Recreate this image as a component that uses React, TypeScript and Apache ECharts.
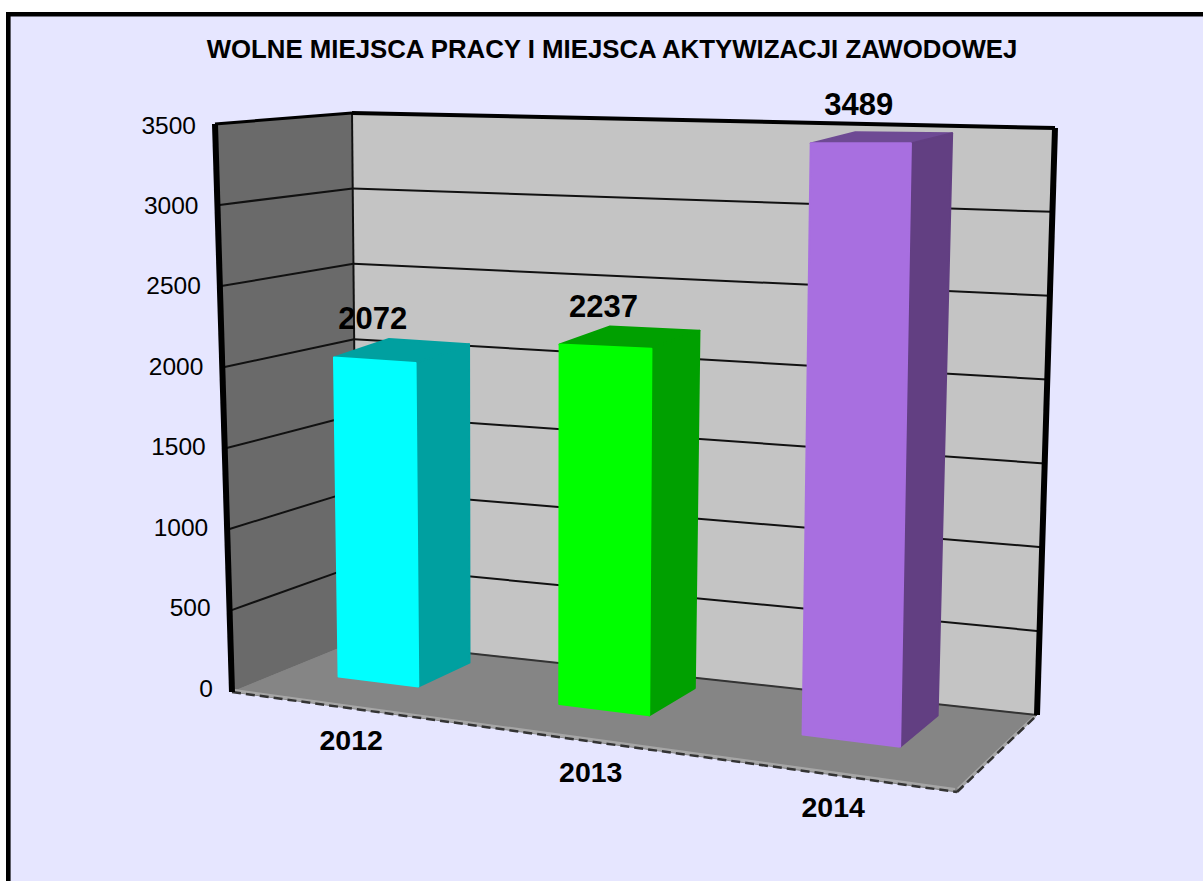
import React, { useEffect, useRef } from "react";
import * as echarts from "echarts";

const titleText = "WOLNE MIEJSCA PRACY I MIEJSCA AKTYWIZACJI ZAWODOWEJ";
const categories = ["2012", "2013", "2014"];
const values = [2072, 2237, 3489];
const yTicks = [0, 500, 1000, 1500, 2000, 2500, 3000, 3500];

const frontColors = ["#00ffff", "#00ff00", "#a86fe0"];
const sideColors = ["#00a0a0", "#00a000", "#623f82"];
const topColors = ["#00a0a0", "#00a000", "#6e4a94"];

const FONT = '"Liberation Sans", Arial, sans-serif';
const GRID = { left: 232, top: 124, width: 725, height: 568 };

// floor quad corners and the perspective derived from them
const A = [232, 692], D = [957, 792], C = [1037, 715], B = [357, 641];
const homography = () => {
  const dx1 = D[0] - C[0], dx2 = B[0] - C[0], sx = A[0] - D[0] + C[0] - B[0];
  const dy1 = D[1] - C[1], dy2 = B[1] - C[1], sy = A[1] - D[1] + C[1] - B[1];
  const den = dx1 * dy2 - dx2 * dy1;
  const g = (sx * dy2 - dx2 * sy) / den;
  const h = (dx1 * sy - sx * dy1) / den;
  return {
    a: D[0] - A[0] + g * D[0], b: B[0] - A[0] + h * B[0], c: A[0],
    d: D[1] - A[1] + g * D[1], e: B[1] - A[1] + h * B[1], f: A[1], g, h,
  };
};
const H = homography();
const lerp = (p: number, q: number, t: number) => p + (q - p) * t;

// u: across, v: 0..1 up the value axis, d: depth 0 (front) .. 1 (back)
const project = (u: number, v: number, d: number): number[] => {
  const w = H.g * u + H.h * d + 1;
  const x = (H.a * u + H.b * d + H.c) / w;
  const y = (H.d * u + H.e * d + H.f) / w;
  const dd = Math.max(d, 0);
  const uh = Math.pow(Math.max(u, 0), 1.4);
  const height = lerp(lerp(568, 735, uh), lerp(528, 587, uh), Math.pow(dd, 0.25));
  const shift = lerp(lerp(-17, 6.5, u), lerp(-5, 18, u), Math.pow(dd, 0.6));
  return [x + shift * v, y - height * v];
};

const BAR_WIDTH_OF_BAND = 0.41;
const BAR_FRONT = 0.41;
const BAR_BACK = 0.85;
const BAR_NUDGE = [-0.003, 0.017, 0.006];
const BAR_WIDTH_SCALE = [1, 0.94, 0.85];
const CATEGORY_LABEL_DX = [26, 35, 23];

const poly = (points: number[][], fill: string, stroke?: string, lineWidth = 1) => ({
  type: "polygon",
  shape: { points },
  style: { fill, stroke: stroke || fill, lineWidth, lineJoin: "round" },
  silent: true,
});
const line = (p: number[], q: number[], stroke: string, lineWidth: number, lineDash?: number[]) => ({
  type: "polyline",
  shape: { points: [p, q] },
  style: { fill: "none", stroke, lineWidth, lineDash },
  silent: true,
});
const label = (text: string, p: number[], font: string, align = "center") => ({
  type: "text",
  style: { text, x: p[0], y: p[1], font, fill: "#000", align, verticalAlign: "middle" },
  silent: true,
});

const renderBox = (params: any, api: any) => {
  const toV = (tick: number) => 1 - (api.coord([0, tick])[1] - GRID.top) / GRID.height;
  const children: any[] = [];
  const p = project;
  children.push(poly([p(0, 0, 0), p(0, 1, 0), p(0, 1, 1), p(0, 0, 1)], "#6a6a6a"));
  children.push(poly([p(0, 0, 1), p(0, 1, 1), p(1, 1, 1), p(1, 0, 1)], "#c4c4c4"));
  yTicks.slice(1, -1).forEach((t) => {
    const v = toV(t);
    children.push(line(p(0, v, 0), p(0, v, 1), "#111", 2));
    children.push(line(p(0, v, 1), p(1, v, 1), "#111", 2));
  });
  children.push(poly([p(0, 0, 0), p(1, 0, 0), p(1, 0, 1), p(0, 0, 1)], "#858585"));
  // lighter floor rim and its broken dark outline
  children.push(line([A[0] + 2, A[1] - 1.5], [D[0] - 2, D[1] - 2.5], "#a6a6a6", 3));
  children.push(line([D[0] + 1, D[1] - 3], [C[0] - 2, C[1] + 1], "#a6a6a6", 3));
  children.push(line(A, D, "#333", 2.5, [9, 5]));
  children.push(line(D, C, "#333", 2.5, [9, 5]));
  children.push(line(p(0, 0, 1), p(1, 0, 1), "#333", 2));
  // box edges
  children.push(line(p(0, 0, 1), p(0, 1, 1), "#111", 2));
  children.push(line(p(0, 0, 0), p(0, 1, 0), "#000", 6));
  children.push(line(p(1, 0, 1), p(1, 1, 1), "#000", 6));
  children.push(line(p(0, 1, 0), p(0, 1, 1), "#000", 3));
  children.push(line(p(0, 1, 1), p(1, 1, 1), "#000", 4));
  yTicks.forEach((t) => {
    const v = toV(t);
    const e = p(0, v, 0);
    children.push(label(String(t), [e[0] - 19, e[1] - 1 + lerp(-3, 2, v)], `24.5px ${FONT}`, "right"));
  });
  return { type: "group", children };
};

const renderBar = (params: any, api: any) => {
  const i = api.value(0);
  const base = api.coord([i, 0]);
  const top = api.coord([i, api.value(1)]);
  const band = api.size([1, 0])[0];
  const u = (base[0] - GRID.left) / GRID.width + BAR_NUDGE[i];
  const hw = ((band * BAR_WIDTH_OF_BAND) / GRID.width / 2) * BAR_WIDTH_SCALE[i];
  const v = (base[1] - top[1]) / GRID.height;
  const u0 = u - hw, u1 = u + hw;
  const p = project;
  const fb = p(u0, 0, BAR_FRONT), fbr = p(u1, 0, BAR_FRONT), bbr = p(u1, 0, BAR_BACK);
  const ft = p(u0, v, BAR_FRONT), ftr = p(u1, v, BAR_FRONT), btr = p(u1, v, BAR_BACK), btl = p(u0, v, BAR_BACK);
  const cat = p(u, 0, 0);
  return {
    type: "group",
    children: [
      poly([ft, ftr, btr, btl], topColors[i], topColors[i], 2),
      poly([fbr, bbr, btr, ftr], sideColors[i], sideColors[i], 2),
      poly([fb, fbr, ftr, ft], frontColors[i], frontColors[i], 2),
      label(String(api.value(1)), [(ft[0] + ftr[0]) / 2 - 2, ft[1] - 38.5], `bold 31px ${FONT}`),
      label(categories[i], [cat[0] + CATEGORY_LABEL_DX[i], cat[1] + 35.5], `bold 28.5px ${FONT}`),
    ],
  };
};

export default function App() {
  const ref = useRef<HTMLDivElement>(null);
  useEffect(() => {
    const chart = echarts.init(ref.current!, null, { renderer: "svg" });
    chart.setOption({
      animation: false,
      backgroundColor: "#ffffff",
      title: {
        text: titleText,
        left: 607,
        top: 31,
        textAlign: "center",
        textStyle: { fontFamily: FONT, fontWeight: "bold", fontSize: 25.8, color: "#000" },
      },
      graphic: [
        {
          type: "rect",
          z: -1,
          silent: true,
          shape: { x: 8.3, y: 14.3, width: 1300, height: 1000 },
          style: { fill: "#e6e6ff", stroke: "#000", lineWidth: 4.6 },
        },
      ],
      grid: { ...GRID },
      xAxis: { type: "category", data: categories, show: false },
      yAxis: { type: "value", min: 0, max: 3500, interval: 500, show: false },
      series: [
        { type: "custom", coordinateSystem: "cartesian2d", renderItem: renderBox, data: [[0, 0]], clip: false, silent: true, z: 2 },
        {
          type: "custom",
          coordinateSystem: "cartesian2d",
          renderItem: renderBar,
          data: values.map((val, i) => [i, val]),
          encode: { x: 0, y: 1 },
          clip: false,
          silent: true,
          z: 3,
        },
      ],
    });
    return () => chart.dispose();
  }, []);
  return <div ref={ref} style={{ position: "fixed", left: 0, top: 0, width: 1203, height: 881 }} />;
}
